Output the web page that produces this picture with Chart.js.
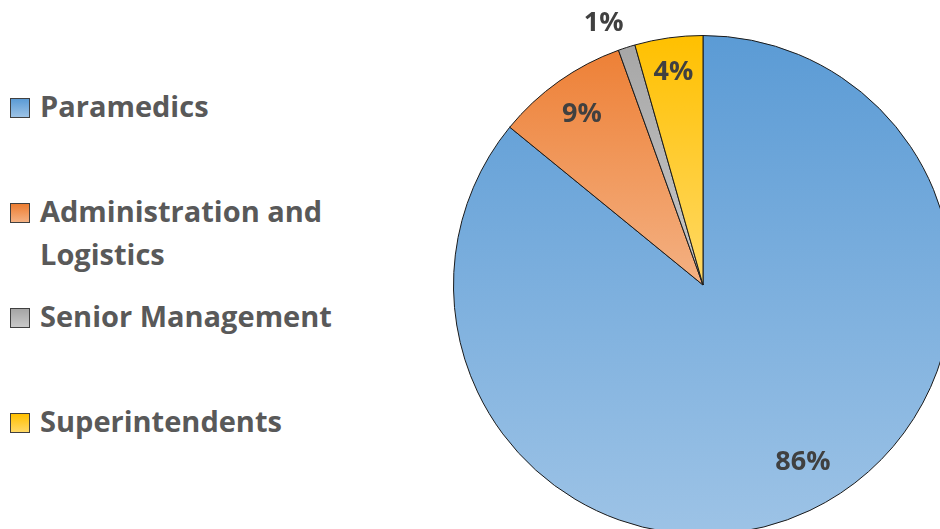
<!DOCTYPE html>
<html>
<head>
<meta charset="utf-8">
<script src="https://cdn.jsdelivr.net/npm/chart.js@4.4.1/dist/chart.umd.min.js"></script>
<style>
  html, body { margin: 0; padding: 0; background: #fff; overflow: hidden; width: 940px; height: 529px; }
  #legend { position: absolute; left: 0; top: 84px; font-family: "Open Sans", sans-serif; font-weight: bold; font-size: 29px; color: #595959; }
  .item { position: relative; height: 105px; width: 360px; }
  .box { position: absolute; left: 10px; top: 14px; width: 18px; height: 18px; border: 1px solid #404040; }
  .label { position: absolute; left: 40px; top: 0; line-height: 43px; white-space: nowrap; }
  #wrap { position: absolute; left: 353px; top: 0; width: 600px; height: 535px; }
</style>
</head>
<body>
<div id="legend"></div>
<div id="wrap"><canvas id="pie"></canvas></div>
<script>
const categories = ["Paramedics", "Administration and Logistics", "Senior Management", "Superintendents"];
const legendLines = [["Paramedics"], ["Administration and", "Logistics"], ["Senior Management"], ["Superintendents"]];
const shares = [85.9, 8.6, 1.1, 4.4];

const fillTop = ["#5b9bd5", "#ed7d31", "#a5a5a5", "#ffc000"];
const fillBottom = ["#9dc3e6", "#f4b183", "#c9c9c9", "#ffd966"];

// label placement: fraction of radius and angle nudge (degrees)
const labelRadius = [0.816, 0.84, 1.12, 0.86];
const labelNudge = [-4, 0, -3, 0];

// legend
const legend = document.getElementById("legend");
categories.forEach((cat, i) => {
    const item = document.createElement("div");
    item.className = "item";
    const box = document.createElement("div");
    box.className = "box";
    box.style.background = "linear-gradient(" + fillTop[i] + ", " + fillBottom[i] + ")";
    const label = document.createElement("div");
    label.className = "label";
    label.innerHTML = legendLines[i].join("<br>");
    item.appendChild(box);
    item.appendChild(label);
    legend.appendChild(item);
});

const pctLabels = {
    id: "pctLabels",
    afterDatasetsDraw(chart) {
        const ctx = chart.ctx;
        const meta = chart.getDatasetMeta(0);
        const total = shares.reduce((a, b) => a + b, 0);
        ctx.save();
        ctx.font = "bold 27px 'Open Sans', sans-serif";
        ctx.fillStyle = "#404040";
        ctx.textAlign = "center";
        ctx.textBaseline = "middle";
        meta.data.forEach((arc, i) => {
            const p = arc.getProps(["x", "y", "startAngle", "endAngle", "outerRadius"], true);
            const mid = (p.startAngle + p.endAngle) / 2 + labelNudge[i] * Math.PI / 180;
            const d = p.outerRadius * labelRadius[i];
            const txt = Math.round(shares[i] / total * 100) + "%";
            ctx.fillText(txt, p.x + Math.cos(mid) * d, p.y + Math.sin(mid) * d);
        });
        ctx.restore();
    }
};

new Chart(document.getElementById("pie"), {
    type: "pie",
    data: {
        labels: categories,
        datasets: [{
            data: shares,
            backgroundColor: function (c) {
                const area = c.chart.chartArea;
                if (!area) return fillTop[c.dataIndex];
                const bottom = c.dataIndex === 0 ? area.bottom : (area.top + area.bottom) / 2;
                const g = c.chart.ctx.createLinearGradient(0, area.top, 0, bottom);
                g.addColorStop(0, fillTop[c.dataIndex]);
                g.addColorStop(1, fillBottom[c.dataIndex]);
                return g;
            },
            borderColor: "#1a1a1a",
            borderWidth: 1
        }]
    },
    options: {
        responsive: true,
        maintainAspectRatio: false,
        animation: false,
        layout: { padding: { top: 35, left: 100, right: 0, bottom: 0 } },
        plugins: {
            legend: { display: false },
            tooltip: { enabled: false }
        }
    },
    plugins: [pctLabels]
});
</script>
</body>
</html>
